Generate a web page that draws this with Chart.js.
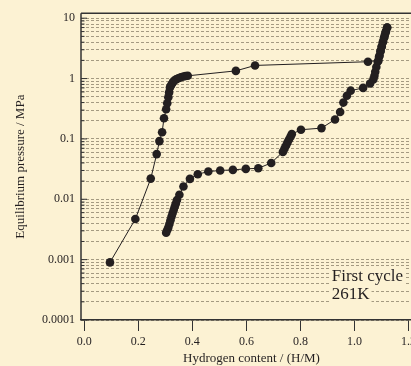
<!DOCTYPE html>
<html lang="en">
<head>
<meta charset="UTF-8">
<title>Pressure-composition isotherm, first cycle 261K</title>
<script src="https://cdn.jsdelivr.net/npm/chart.js@4.4.1/dist/chart.umd.min.js"></script>
<style>
  html, body { margin: 0; padding: 0; background: #fcf2d3; overflow: hidden; }
  #wrap { width: 411px; height: 366px; overflow: hidden; }
</style>
</head>
<body>
<div id="wrap"><canvas id="pct" width="432" height="366"></canvas></div>
<script>
// absorption branch (H/M, MPa)
const absH = [0.095, 0.189, 0.246, 0.268, 0.278, 0.288, 0.295, 0.303, 0.307, 0.311, 0.314, 0.317,
              0.320, 0.324, 0.328, 0.332, 0.340, 0.348, 0.357, 0.367, 0.375, 0.383, 0.561, 0.632,
              1.050, 1.089, 1.093, 1.097, 1.101, 1.105, 1.109, 1.113, 1.117, 1.121];
const absP = [0.0009, 0.0047, 0.022, 0.056, 0.092, 0.129, 0.22, 0.31, 0.39, 0.49, 0.59, 0.71,
              0.76, 0.81, 0.87, 0.92, 0.97, 1.01, 1.05, 1.08, 1.10, 1.11, 1.34, 1.65,
              1.90, 2.0, 2.4, 2.9, 3.4, 4.0, 4.7, 5.4, 6.2, 7.0];

// desorption branch
const desH = [1.121, 1.116, 1.111, 1.106, 1.101, 1.096, 1.091, 1.086, 1.081, 1.077, 1.074, 1.070,
              1.058, 1.032, 0.986, 0.972, 0.959, 0.947, 0.928, 0.878, 0.802, 0.768, 0.763, 0.757,
              0.752, 0.747, 0.741, 0.735, 0.692, 0.644, 0.598, 0.550, 0.503, 0.459, 0.420, 0.391,
              0.367, 0.352, 0.343, 0.339, 0.335, 0.331, 0.327, 0.323, 0.319, 0.315, 0.311, 0.307, 0.303];
const desP = [7.0, 5.9, 4.9, 4.1, 3.4, 2.8, 2.3, 1.9, 1.55, 1.3, 1.11, 0.97,
              0.83, 0.70, 0.63, 0.52, 0.40, 0.28, 0.21, 0.151, 0.142, 0.12, 0.108, 0.097,
              0.087, 0.078, 0.069, 0.061, 0.040, 0.0326, 0.0319, 0.0307, 0.030, 0.0288, 0.026, 0.0218,
              0.0163, 0.0119, 0.0097, 0.0085, 0.0076, 0.0067, 0.0059, 0.0052, 0.0045, 0.0039, 0.0034, 0.0031, 0.0028];

const xTicks = [0, 0.2, 0.4, 0.6, 0.8, 1.0, 1.2];
const yDecades = [0.0001, 0.001, 0.01, 0.1, 1, 10];
const yLabels = ['0.0001', '0.001', '0.01', '0.1', '1', '10'];

const notes = ['First cycle', '261K'];
const noteX = [0.916, 0.916];
const noteY = [0.00045, 0.000227];

const ink = '#231f20';
const paper = '#fcf2d3';
const serif = '"Liberation Serif", "Times New Roman", serif';

// every 1..9 x decade for the dashed grid
const yTickVals = [];
yDecades.forEach(d => {
  for (let m = 1; m <= 9; m++) {
    if (m * d <= 12.1) yTickVals.push(m * d);
  }
});
function decadeIndex(v) {
  return yDecades.findIndex(d => Math.abs(v / d - 1) < 1e-6);
}

function pts(xs, ys) {
  return xs.map((x, i) => ({ x: x, y: ys[i] }));
}

const decor = {
  id: 'decor',
  beforeDraw(chart) {
    const ctx = chart.ctx;
    ctx.save();
    ctx.fillStyle = paper;
    ctx.fillRect(0, 0, chart.width, chart.height);
    ctx.restore();
  },
  afterDatasetsDraw(chart) {
    const { ctx, chartArea: a, scales: { x, y } } = chart;
    ctx.save();
    // text labels sit on a plain box that hides the grid
    ctx.font = '17px ' + serif;
    ctx.textBaseline = 'alphabetic';
    notes.forEach((s, i) => {
      const px = x.getPixelForValue(noteX[i]);
      const py = y.getPixelForValue(noteY[i]);
      const w = ctx.measureText(s).width;
      ctx.fillStyle = paper;
      ctx.fillRect(px - 1, py - 14, w + 3, 19);
    });
    ctx.fillStyle = ink;
    notes.forEach((s, i) => {
      ctx.fillText(s, x.getPixelForValue(noteX[i]), y.getPixelForValue(noteY[i]));
    });

    // frame: top line and left axis
    ctx.strokeStyle = '#333';
    ctx.lineWidth = 1.5;
    ctx.beginPath();
    ctx.moveTo(a.left, a.top);
    ctx.lineTo(chart.width, a.top);
    ctx.moveTo(a.left, a.top);
    ctx.lineTo(a.left, a.bottom);
    ctx.stroke();

    // y ticks point inward
    ctx.lineWidth = 1;
    yTickVals.forEach(v => {
      const py = y.getPixelForValue(v);
      const len = decadeIndex(v) >= 0 ? 6 : 3.5;
      ctx.beginPath();
      ctx.moveTo(a.left, py);
      ctx.lineTo(a.left + len, py);
      ctx.stroke();
    });
    ctx.restore();
  }
};

const lineStyle = {
  showLine: true,
  borderColor: ink,
  borderWidth: 1,
  backgroundColor: ink,
  pointBackgroundColor: ink,
  pointBorderWidth: 0,
  pointRadius: 4.3,
  pointHoverRadius: 4.3
};

new Chart(document.getElementById('pct'), {
  type: 'scatter',
  data: {
    datasets: [
      Object.assign({ label: 'absorption', data: pts(absH, absP) }, lineStyle),
      Object.assign({ label: 'desorption', data: pts(desH, desP) }, lineStyle)
    ]
  },
  options: {
    responsive: false,
    animation: false,
    layout: { padding: { left: 0, top: 10, right: 10, bottom: 0 } },
    plugins: { legend: { display: false }, tooltip: { enabled: false } },
    scales: {
      x: {
        type: 'linear',
        min: -0.0122,
        max: 1.25,
        afterFit: s => { s.height = 46; },
        afterBuildTicks: s => { s.ticks = xTicks.map(v => ({ value: v })); },
        grid: { drawOnChartArea: false, drawTicks: true, tickLength: 11, tickColor: '#333', tickWidth: 1 },
        border: { display: true, color: '#333', width: 1.5 },
        ticks: {
          color: ink,
          font: { family: serif, size: 12 },
          padding: 4,
          maxRotation: 0,
          callback: v => Number(v).toFixed(1)
        },
        title: {
          display: true,
          text: 'Hydrogen content / (H/M)',
          color: ink,
          font: { family: serif, size: 13 },
          padding: { top: 0, bottom: 0 }
        }
      },
      y: {
        type: 'logarithmic',
        min: 0.0001,
        max: 12.1,
        afterFit: s => { s.width = 81; },
        afterBuildTicks: s => { s.ticks = yTickVals.map(v => ({ value: v })); },
        grid: { drawTicks: false, color: 'rgba(105, 95, 75, 0.6)', lineWidth: 1 },
        border: { display: false, dash: [3, 2] },
        ticks: {
          color: ink,
          font: { family: serif, size: 12 },
          padding: 6,
          autoSkip: false,
          callback: v => {
            const k = decadeIndex(v);
            return k >= 0 ? yLabels[k] : '';
          }
        },
        title: {
          display: true,
          text: 'Equilibrium pressure / MPa',
          color: ink,
          font: { family: serif, size: 13 },
          padding: { top: 13, bottom: 0 }
        }
      }
    }
  },
  plugins: [decor]
});
</script>
</body>
</html>
